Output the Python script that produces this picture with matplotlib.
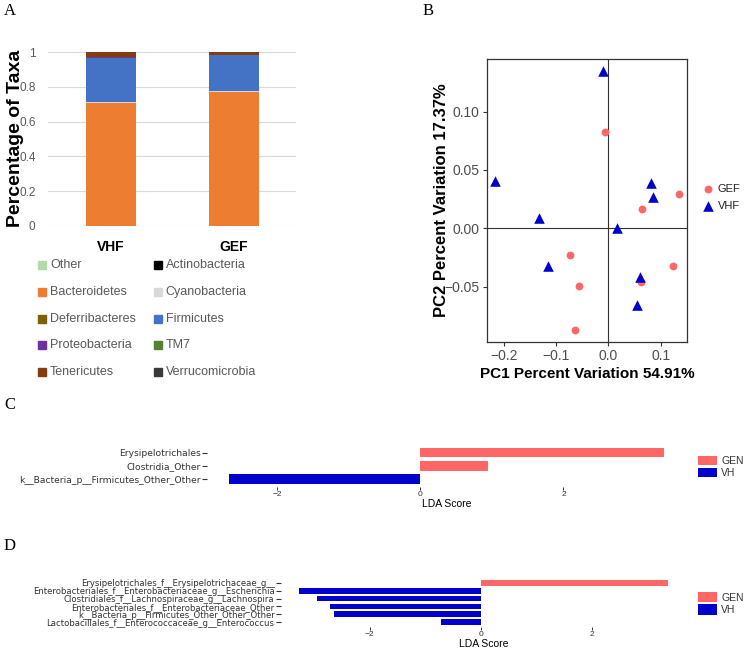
import numpy as np
import matplotlib
matplotlib.use('Agg')
import matplotlib.pyplot as plt
from matplotlib.lines import Line2D
from matplotlib.patches import Patch
from matplotlib.ticker import FuncFormatter

plt.rcParams['font.family'] = ['Liberation Sans', 'DejaVu Sans']

W, H = 750, 649  # размер картинки в пикселях


def box(left, top, right, bottom):
    # пиксели -> доли фигуры
    return [left / W, 1 - bottom / H, (right - left) / W, (bottom - top) / H]


def minus(fmt):
    return FuncFormatter(lambda v, p: format(v, fmt).replace('-', '\u2212'))


# ---- данные панели A (доли таксонов)
groups = ['VHF', 'GEF']
taxa = ['Other', 'Actinobacteria', 'Bacteroidetes', 'Cyanobacteria', 'Deferribacteres',
        'Firmicutes', 'Proteobacteria', 'TM7', 'Tenericutes', 'Verrucomicrobia']
taxa_colors = ['#b4dba5', '#000000', '#ed7d31', '#d9d9d9', '#7f6000',
               '#4472c4', '#7030a0', '#548235', '#843c0c', '#3b3838']
vhf_abund = [0.001, 0.0, 0.706, 0.004, 0.0005, 0.2565, 0.006, 0.0005, 0.0255, 0.0005]
gef_abund = [0.001, 0.0, 0.772, 0.004, 0.0005, 0.2045, 0.004, 0.0005, 0.0135, 0.0005]

# ---- данные панели B (PCA)
gef_pc1 = [-0.0064, 0.1357, 0.065, -0.0732, -0.0554, 0.1229, 0.0618, -0.0637]
gef_pc2 = [0.0826, 0.0294, 0.0163, -0.0226, -0.0494, -0.032, -0.0457, -0.0871]
vhf_pc1 = [-0.0096, -0.2166, -0.1325, -0.1159, 0.0172, 0.0809, 0.0847, 0.0599, 0.0541]
vhf_pc2 = [0.1351, 0.0409, 0.0086, -0.0323, 0.0006, 0.0391, 0.0271, -0.0414, -0.066]

# ---- данные панелей C и D (LDA)
c_taxa = ['Erysipelotrichales', 'Clostridia_Other', 'k__Bacteria_p__Firmicutes_Other_Other']
c_lda = [3.41, 0.95, -2.68]
d_taxa = ['Erysipelotrichales_f__Erysipelotrichaceae_g__',
          'Enterobacteriales_f__Enterobacteriaceae_g__Escherichia',
          'Clostridiales_f__Lachnospiraceae_g__Lachnospira',
          'Enterobacteriales_f__Enterobacteriaceae_Other',
          'k__Bacteria_p__Firmicutes_Other_Other_Other',
          'Lactobacillales_f__Enterococcaceae_g__Enterococcus']
d_lda = [3.36, -3.26, -2.95, -2.71, -2.64, -0.72]

GEN_COL = '#ff6666'
VH_COL = '#0000cd'

fig = plt.figure(figsize=(7.5, 6.49), dpi=100)

# ================= A
axA = fig.add_axes(box(48, 51.7, 296, 226))
x = np.arange(len(groups))
bottom = np.zeros(len(groups))
for col, v1, v2 in zip(taxa_colors, vhf_abund, gef_abund):
    vals = np.array([v1, v2])
    axA.bar(x, vals, width=0.41, bottom=bottom, color=col, linewidth=0, zorder=3)
    bottom += vals
axA.set_xlim(-0.512, 1.504)
axA.set_ylim(0, 1.003)
axA.set_yticks(np.arange(0, 1.01, 0.2))
axA.yaxis.set_major_formatter(FuncFormatter(lambda v, p: f'{v:g}'))
axA.grid(axis='y', color='#d9d9d9', lw=0.8, zorder=0)
for s in axA.spines.values():
    s.set_visible(False)
axA.tick_params(length=0)
axA.tick_params(axis='y', labelsize=8.5, labelcolor='#595959', pad=9)
axA.set_xticks(x)
axA.set_xticklabels(groups, fontsize=10, fontweight='bold')
axA.tick_params(axis='x', pad=10)
axA.set_ylabel('Percentage of Taxa', fontsize=14, fontweight='bold')
axA.yaxis.set_label_coords(-0.095, 0.5)

# легенда панели A, две колонки построчно
for i, (name, col) in enumerate(zip(taxa, taxa_colors)):
    row, c = divmod(i, 2)
    y = 1 - (265 + 26.8 * row) / H
    xs = [42.2, 157.8][c] / W
    xt = [50, 165.7][c] / W
    fig.add_artist(Line2D([xs], [y], marker='s', markersize=5.5, color=col,
                          linestyle='none', transform=fig.transFigure))
    fig.text(xt, y, name, ha='left', va='center', fontsize=9, color='#595959')

# ================= B
axB = fig.add_axes(box(486.7, 59, 687.3, 341.7))
axB.axhline(0, color='#333333', lw=0.8, zorder=1)
axB.axvline(0, color='#333333', lw=0.8, zorder=1)
axB.scatter(gef_pc1, gef_pc2, s=32, marker='o', color=GEN_COL, linewidths=0, zorder=3, label='GEF')
axB.scatter(vhf_pc1, vhf_pc2, s=58, marker='^', color=VH_COL, linewidths=0, zorder=3, label='VHF')
axB.set_xlim(-0.2325, 0.151)
axB.set_ylim(-0.0973, 0.1452)
axB.set_xticks([-0.2, -0.1, 0.0, 0.1])
axB.set_yticks([-0.05, 0.0, 0.05, 0.10])
axB.xaxis.set_major_formatter(minus('.1f'))
axB.yaxis.set_major_formatter(minus('.2f'))
axB.tick_params(length=3, width=0.8, color='#333333', labelsize=10, labelcolor='#4d4d4d', pad=2)
for s in axB.spines.values():
    s.set_color('#333333')
    s.set_linewidth(0.9)
axB.set_xlabel('PC1 Percent Variation 54.91%', fontsize=11, fontweight='bold', labelpad=3)
axB.set_ylabel('PC2 Percent Variation 17.37%', fontsize=12, fontweight='bold')
axB.yaxis.set_label_coords(-0.19, 0.5)
axB.legend(loc='center left', bbox_to_anchor=(1.075, 0.51), frameon=False, fontsize=8,
           handlelength=1.0, handletextpad=0.4, borderaxespad=0, borderpad=0,
           labelspacing=0.6, labelcolor='#222222')


# ================= C и D
def lda_panel(ax, names, vals, lab_size, leg_x, hh):
    n = len(names)
    pos = np.arange(n)
    cols = [GEN_COL if v > 0 else VH_COL for v in vals]
    ax.barh(pos, vals, height=0.72, color=cols, linewidth=0)
    lo, hi = min(min(vals), 0), max(max(vals), 0)
    pad = 0.05 * (hi - lo)
    ax.set_xlim(lo - pad, hi + pad)
    ax.set_ylim(n - 0.4, -0.6)
    ax.set_yticks(pos)
    ax.set_yticklabels(names, family='DejaVu Sans')
    ax.set_xticks([-2, 0, 2])
    ax.xaxis.set_major_formatter(minus('g'))
    for s in ax.spines.values():
        s.set_visible(False)
    ax.tick_params(axis='y', length=3.6, width=0.8, color='#333333',
                   labelsize=lab_size, labelcolor='#333333', pad=1)
    ax.tick_params(axis='x', length=2.5, width=0.7, color='#333333',
                   labelsize=6, labelcolor='#333333', pad=0.5)
    ax.set_xlabel('LDA Score', fontsize=7.5, labelpad=0.5)
    handles = [Patch(facecolor=GEN_COL, label='GEN'), Patch(facecolor=VH_COL, label='VH')]
    ax.legend(handles=handles, loc='center left', bbox_to_anchor=(leg_x, 0.48), frameon=False,
              fontsize=7.5, handlelength=1.85, handleheight=hh, handletextpad=0.4,
              borderaxespad=0, borderpad=0, labelspacing=0.15, labelcolor='#333333')


axC = fig.add_axes(box(207, 444.5, 686, 487.3))
lda_panel(axC, c_taxa, c_lda, 6.6, 1 + 11.7 / 479, 0.95)
axD = fig.add_axes(box(281, 578.1, 686.5, 626.9))
lda_panel(axD, d_taxa, d_lda, 6.1, 1 + 11.5 / 405.5, 1.15)

# буквы панелей
for lab, px, py in [('A', 10, 11), ('B', 428, 11), ('C', 10, 405), ('D', 10, 546)]:
    fig.text(px / W, 1 - py / H, lab, family='Liberation Serif', fontsize=12,
             ha='center', va='center')

fig.savefig('out.png', dpi=100)
